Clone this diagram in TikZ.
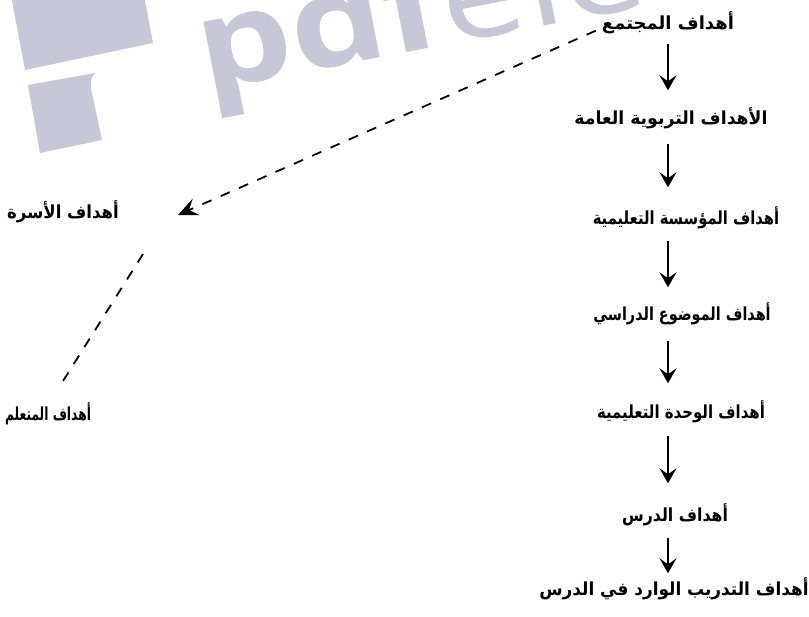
\documentclass[tikz,border=0pt]{standalone}
\usepackage{fontspec}
\usetikzlibrary{arrows.meta,calc}
\TeXXeTstate=1
\newfontfamily\arabicfont[Script=Arabic]{DejaVu Sans}
\newfontfamily\wmfont{Open Sans}
\definecolor{wmcol}{RGB}{198,200,215}
\begin{document}
\begin{tikzpicture}[x=1pt,y=-1pt,
  lbl/.style={font=\arabicfont\bfseries\fontsize{18}{20}\selectfont, inner sep=0pt, text height=14pt, text depth=5pt},
  flow/.style={line width=2pt, -{Stealth[length=15pt,width=17pt,inset=6pt]}},
  dashlink/.style={line width=1.8pt, dash pattern=on 10pt off 10pt},
  wmtext/.style={font=\wmfont\fontsize{125}{125}\selectfont, text=wmcol, inner sep=0pt}
]
\useasboundingbox (0,0) rectangle (809,617);
% watermark
\begin{scope}
\clip (0,0) rectangle (809,617);
\fill[wmcol] (10,-10) -- (143,-10) -- (153,43) -- (25,70) -- cycle;
\fill[wmcol] (28,85) -- (95,73) .. controls (90,78) and (90,88) .. (92,93) -- (102,140) -- (40,153) -- cycle;
\node[wmtext, rotate=11, anchor=base west] (wm) at (205,92) {\scalebox{1.2}[1]{\bfseries pdf\mdseries ele}};
\end{scope}
% right column
\node[lbl] (n1) at (668,25) {\scalebox{1.0}[1]{\beginR أهداف المجتمع\endR}};
\node[lbl] (n2) at (671,120) {\scalebox{0.96}[1]{\beginR الأهداف التربوية العامة\endR}};
\node[lbl] (n3) at (686,220) {\scalebox{0.82}[1]{\beginR أهداف المؤسسة التعليمية\endR}};
\node[lbl] (n4) at (682,316) {\scalebox{0.80}[1]{\beginR أهداف الموضوع الدراسي\endR}};
\node[lbl] (n5) at (681,414) {\scalebox{0.83}[1]{\beginR أهداف الوحدة التعليمية\endR}};
\node[lbl] (n6) at (675,517) {\scalebox{0.875}[1]{\beginR أهداف الدرس\endR}};
\node[lbl] (n7) at (674,591) {\scalebox{0.94}[1]{\beginR أهداف التدريب الوارد في الدرس\endR}};
% left column
\node[lbl] (l1) at (63,214) {\scalebox{0.92}[1]{\beginR أهداف الأسرة\endR}};
\node[lbl] (l2) at (48,416) {\scalebox{0.68}[1]{\beginR أهداف المتعلم\endR}};
\coordinate (ax) at (668,0);
\draw[flow, shorten <=9pt, shorten >=20pt] (n1.south -| ax) -- (n2.north -| ax);
\draw[flow, shorten <=14pt, shorten >=23pt] (n2.south -| ax) -- (n3.north -| ax);
\draw[flow, shorten <=11pt, shorten >=19pt] (n3.south -| ax) -- (n4.north -| ax);
\draw[flow, shorten <=15pt, shorten >=21pt] (n4.south -| ax) -- (n5.north -| ax);
\draw[flow, shorten <=12pt, shorten >=24pt] (n5.south -| ax) -- (n6.north -| ax);
\draw[flow, shorten <=11pt, shorten >=8pt] (n6.south -| ax) -- (n7.north -| ax);
% dashed links
\coordinate (fa) at (178,215);
\coordinate (c1) at (143,254);
\coordinate (c2) at (58,389);
\draw[dashlink, -{Stealth[length=20pt,width=18pt,inset=8pt]}] ($(n1.south west)+(-6,-4)$) -- (fa);
\draw[dashlink] (c1) -- (c2);
\end{tikzpicture}
\end{document}
